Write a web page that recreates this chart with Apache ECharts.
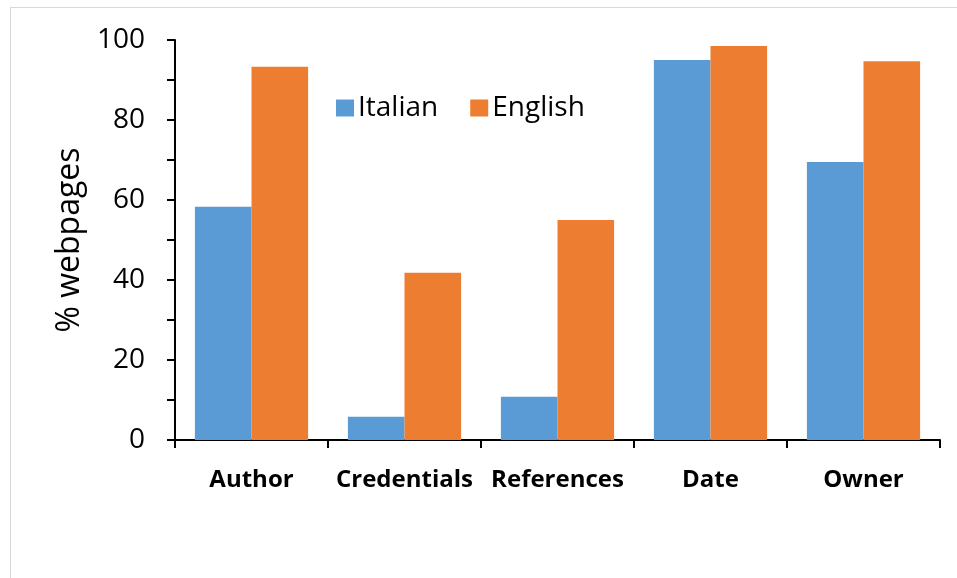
<!DOCTYPE html>
<html>
<head>
<meta charset="utf-8">
<script src="https://cdn.jsdelivr.net/npm/echarts@6/dist/echarts.min.js"></script>
<style>
html,body{margin:0;padding:0;background:#fff;}
#frame{position:absolute;left:10px;top:7px;width:960px;height:580px;border:1.5px solid #d9d9d9;box-sizing:border-box;}
#c{position:absolute;left:0;top:0;width:957px;height:578px;}
</style>
</head>
<body>
<div id="frame"></div>
<div id="c"></div>
<script>
const categories = ['Author', 'Credentials', 'References', 'Date', 'Owner'];
const italian = [58.3, 5.8, 10.8, 95, 69.5];
const english = [93.3, 41.8, 55, 98.5, 94.7];
const yTicks = [0, 20, 40, 60, 80, 100];

const chart = echarts.init(document.getElementById('c'));
const FONT = 'Open Sans';
chart.setOption({
  animation: false,
  grid: {left: 175, right: 17, top: 40, bottom: 138, containLabel: false},
  legend: {
    data: ['Italian', 'English'],
    left: 331, top: 89,
    itemWidth: 18, itemHeight: 17, itemGap: 32,
    icon: 'rect',
    textStyle: {fontFamily: FONT, fontSize: 28, color: '#000', padding: [0,0,0,-1]}
  },
  xAxis: {
    type: 'category',
    data: categories,
    axisLine: {lineStyle: {color: '#000', width: 2}},
    axisTick: {show: true, length: 8, lineStyle: {color: '#000', width: 2}},
    axisLabel: {interval: 0, hideOverlap: false, fontFamily: FONT, fontWeight: 'bold', fontSize: 24, color: '#000', margin: 28}
  },
  yAxis: {
    type: 'value',
    min: 0, max: 100, interval: 20,
    name: '% webpages',
    nameLocation: 'middle',
    nameGap: 88,
    nameTextStyle: {fontFamily: FONT, fontSize: 32, color: '#000'},
    axisLine: {show: true, lineStyle: {color: '#000', width: 2}},
    axisTick: {show: true, length: 8, lineStyle: {color: '#000', width: 2}},
    minorTick: {show: true, splitNumber: 2, length: 8, lineStyle: {color: '#000', width: 2}},
    splitLine: {show: false},
    axisLabel: {fontFamily: FONT, fontSize: 28, color: '#000', margin: 30,
      formatter: v => yTicks.includes(v) ? String(v) : ''}
  },
  series: [
    {name: 'Italian', type: 'bar', data: italian, barGap: '0%', barCategoryGap: '26%',
     itemStyle: {color: '#5b9bd5'}},
    {name: 'English', type: 'bar', data: english, barGap: '0%', barCategoryGap: '26%',
     itemStyle: {color: '#ed7d31'}}
  ]
});
</script>
</body>
</html>
